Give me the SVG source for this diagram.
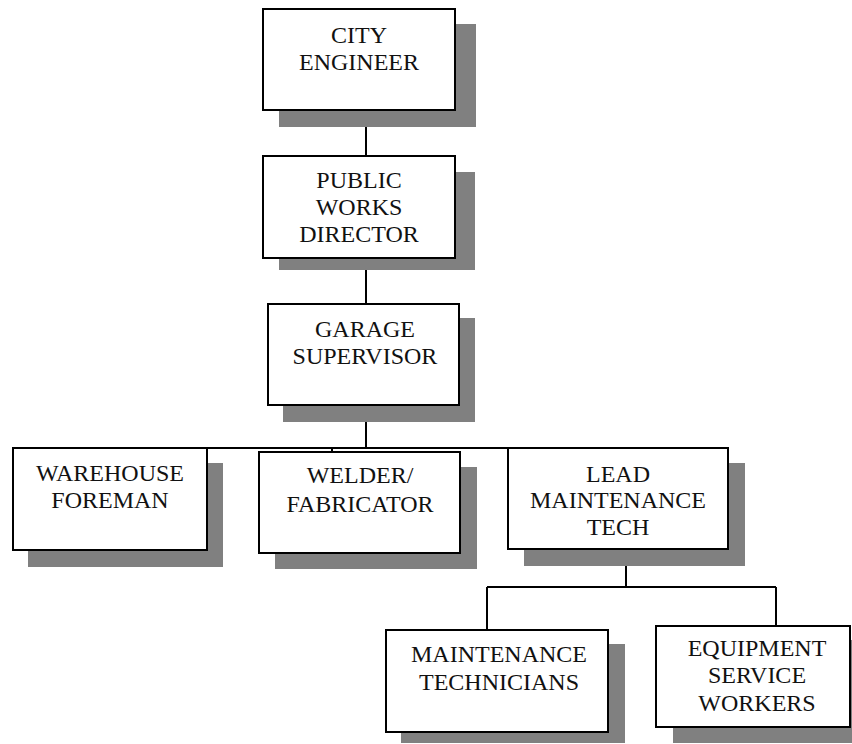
<svg xmlns="http://www.w3.org/2000/svg" width="852" height="744" viewBox="0 0 852 744">
<style>
.sh{fill:#808080;stroke:none}
.bx{fill:#fff;stroke:#000;stroke-width:2}
.t{font-family:"Liberation Serif","Times New Roman",serif;font-size:24px;fill:#111;text-anchor:middle}
.ln{stroke:#000;stroke-width:2;fill:none}
</style>
<rect width="852" height="744" fill="#fff"/>
<g id="connectors">
<path class="ln" d="M366,110 V156 M366,258 V304 M366,405 V448 M13,448 H626 M332,448 V452 M626,549 V587 M487,587 H776 M487,587 V630 M776,587 V626"/>
</g>
<g id="city-engineer">
<rect class="sh" x="279" y="24" width="197" height="103"/>
<rect class="bx" x="263" y="9" width="192" height="101"/>
<text class="t" x="359" y="43">CITY</text>
<text class="t" x="359" y="70">ENGINEER</text>
</g>
<g id="public-works-director">
<rect class="sh" x="279" y="172" width="196" height="98"/>
<rect class="bx" x="263" y="156" width="192" height="102"/>
<text class="t" x="359" y="188">PUBLIC</text>
<text class="t" x="359" y="215">WORKS</text>
<text class="t" x="359" y="242">DIRECTOR</text>
</g>
<g id="garage-supervisor">
<rect class="sh" x="283" y="318" width="192" height="104"/>
<rect class="bx" x="268" y="304" width="191" height="101"/>
<text class="t" x="365" y="337">GARAGE</text>
<text class="t" x="365" y="364">SUPERVISOR</text>
</g>
<g id="warehouse-foreman">
<rect class="sh" x="28" y="463" width="195" height="104"/>
<rect class="bx" x="13" y="448" width="194" height="102"/>
<text class="t" x="110" y="481">WAREHOUSE</text>
<text class="t" x="110" y="508">FOREMAN</text>
</g>
<g id="welder-fabricator">
<rect class="sh" x="275" y="467" width="202" height="102"/>
<rect class="bx" x="259" y="452" width="201" height="101"/>
<text class="t" x="360" y="483">WELDER/</text>
<text class="t" x="360" y="512">FABRICATOR</text>
</g>
<g id="lead-maintenance-tech">
<rect class="sh" x="524" y="463" width="221" height="103"/>
<rect class="bx" x="508" y="448" width="220" height="101"/>
<text class="t" x="618" y="482">LEAD</text>
<text class="t" x="618" y="508">MAINTENANCE</text>
<text class="t" x="618" y="535">TECH</text>
</g>
<g id="maintenance-technicians">
<rect class="sh" x="401" y="644" width="224" height="99"/>
<rect class="bx" x="386" y="630" width="222" height="102"/>
<text class="t" x="499" y="662">MAINTENANCE</text>
<text class="t" x="499" y="690">TECHNICIANS</text>
</g>
<g id="equipment-service-workers">
<rect class="sh" x="673" y="640" width="190" height="103"/>
<rect class="bx" x="656" y="626" width="194" height="101"/>
<text class="t" x="757" y="656">EQUIPMENT</text>
<text class="t" x="757" y="683">SERVICE</text>
<text class="t" x="757" y="711">WORKERS</text>
</g>
</svg>
